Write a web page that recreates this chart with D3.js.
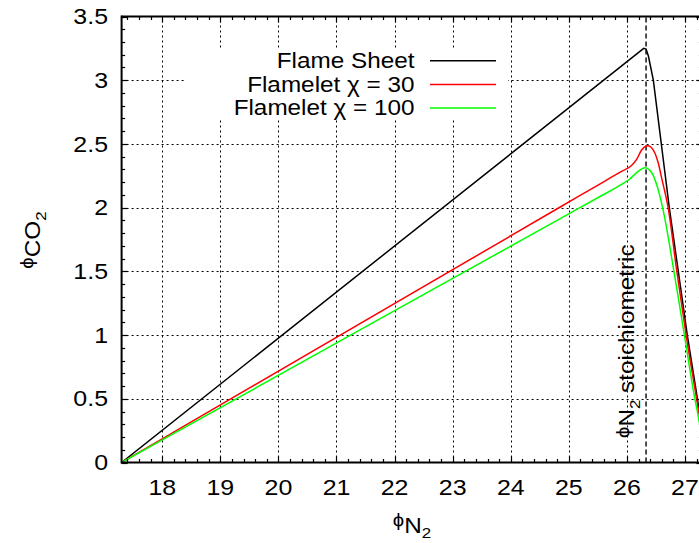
<!DOCTYPE html>
<html><head><meta charset="utf-8">
<script src="https://cdn.jsdelivr.net/npm/d3@7"></script>
<style>body{margin:0;background:#fff} svg{display:block} text{font-family:"Liberation Sans",Arial,Helvetica,sans-serif;fill:#000}</style>
</head><body><svg id="c" width="699" height="543"></svg>
<script>
// ---- data ----
const xTicks = [18,19,20,21,22,23,24,25,26,27];
const yTicks = [0,0.5,1,1.5,2,2.5,3,3.5];
const seriesNames = ["Flame Sheet","Flamelet χ = 30","Flamelet χ = 100"];
const seriesColors = ["#000000","#ff0000","#00ff00"];
const flameSheetX = [17.3,26.29,26.33,26.37,26.455,26.73,26.885,27.04,27.215,27.37];
const flameSheetY = [0,3.25,3.245,3.19,3.0,2.0,1.5,1.0,0.5,0];
const chi30X = [17.3,18.0,24.86,25.6,25.9,26.08,26.17,26.25,26.36,26.455,26.54,26.6,26.71,26.86,27.02,27.2,27.38];
const chi30Y = [0,0.186,2.007,2.203,2.283,2.33,2.38,2.45,2.486,2.452,2.35,2.23,2.0,1.5,1.0,0.5,0];
const chi100X = [17.3,18.0,24.86,25.6,25.9,26.05,26.17,26.31,26.42,26.52,26.615,26.81,26.99,27.17,27.23,27.35];
const chi100Y = [0,0.177,1.916,2.103,2.18,2.225,2.275,2.314,2.28,2.17,2.0,1.5,1.0,0.5,0.36,0];
const stoichX = 26.33;
const xDomain = [17.3,27.3];
const yDomain = [0,3.5];

// ---- layout ----
const svg = d3.select("#c");
const L = 121.6, R = 702.4, T = 16.5, B = 462.5;
const x = d3.scaleLinear().domain(xDomain).range([L,R]);
const y = d3.scaleLinear().domain(yDomain).range([B,T]);
const FS = 21.5, SX = 1.13;

svg.append("defs").append("clipPath").attr("id","clip")
  .append("rect").attr("x",L).attr("y",T).attr("width",R-L).attr("height",B-T);

// grid
const grid = svg.append("g").attr("stroke","#000").attr("stroke-width",1).attr("stroke-dasharray","2,3");
xTicks.forEach(v=>grid.append("line").attr("x1",Math.round(x(v))+0.5).attr("x2",Math.round(x(v))+0.5).attr("y1",B).attr("y2",T));
yTicks.filter(v=>v>0 && v<3.5).forEach(v=>grid.append("line").attr("y1",Math.round(y(v))+0.5).attr("y2",Math.round(y(v))+0.5).attr("x1",L).attr("x2",R));

// stoichiometric line
svg.append("line").attr("x1",x(stoichX)).attr("x2",x(stoichX)).attr("y1",B).attr("y2",T)
  .attr("stroke","#222").attr("stroke-width",1.6).attr("stroke-dasharray","5,3");

// legend box (opaque)
svg.append("rect").attr("x",184).attr("y",48).attr("width",324).attr("height",72).attr("fill","#fff");

// curves
const series = [[flameSheetX,flameSheetY,d3.curveLinear],[chi30X,chi30Y,d3.curveMonotoneX],[chi100X,chi100Y,d3.curveMonotoneX]];
const cg = svg.append("g").attr("clip-path","url(#clip)");
series.forEach((s,i)=>{
  const pts = s[0].map((xv,j)=>[xv,s[1][j]]);
  cg.append("path").attr("d",d3.line().x(d=>x(d[0])).y(d=>y(d[1])).curve(s[2])(pts))
    .attr("fill","none").attr("stroke",seriesColors[i]).attr("stroke-width",1.5);
});

// axes frame and ticks
const ax = svg.append("g").attr("stroke","#000");
ax.append("line").attr("x1",L).attr("x2",R).attr("y1",B).attr("y2",B).attr("stroke-width",2);
ax.append("line").attr("x1",L).attr("x2",R).attr("y1",T).attr("y2",T).attr("stroke-width",2);
ax.append("line").attr("x1",L).attr("x2",L).attr("y1",T-1).attr("y2",B+1).attr("stroke-width",2);
ax.append("line").attr("x1",R).attr("x2",R).attr("y1",T-1).attr("y2",B+1).attr("stroke-width",2);
const xMinor = d3.range(Math.ceil(xDomain[0]*5), Math.floor(xDomain[1]*5)+1).map(k=>k/5);
xMinor.forEach(v=>{
  const major = Math.abs(v-Math.round(v))<1e-9;
  const len = major?6:3.5, px = Math.round(x(v))+0.5;
  ax.append("line").attr("x1",px).attr("x2",px).attr("y1",B).attr("y2",B-len).attr("stroke-width",1.2);
  ax.append("line").attr("x1",px).attr("x2",px).attr("y1",T).attr("y2",T+len).attr("stroke-width",1.2);
});
const yMinor = d3.range(0,36).map(k=>k/10);
yMinor.forEach(v=>{
  const major = Math.abs(v*2-Math.round(v*2))<1e-9;
  const len = major?6:3.5, py = Math.round(y(v))+0.5;
  ax.append("line").attr("x1",L).attr("x2",L+len).attr("y1",py).attr("y2",py).attr("stroke-width",1.2);
  ax.append("line").attr("x1",R).attr("x2",R-len).attr("y1",py).attr("y2",py).attr("stroke-width",1.2);
});

function txt(px,py,s,anchor,rot,sx){
  const t = svg.append("text").attr("font-size",FS).attr("text-anchor",anchor)
    .attr("transform",`translate(${px},${py})`+(rot?` rotate(${rot})`:"")+` scale(${sx||SX},1)`);
  if (typeof s === "string") t.text(s);
  return t;
}
// tick labels
xTicks.forEach(v=>txt(x(v),495,String(v),"middle",0,1.16));
yTicks.forEach(v=>txt(108,y(v)+7.7,String(v),"end",0,1.16));

// legend
seriesNames.forEach((n,i)=>{
  const ly = 60.7 + i*23.7;
  txt(414.5, ly+7.3, n, "end");
  svg.append("line").attr("x1",430).attr("x2",496).attr("y1",ly).attr("y2",ly)
    .attr("stroke",seriesColors[i]).attr("stroke-width",1.5);
});

// axis labels
const xl = txt(412,533,null,"middle");
xl.append("tspan").attr("font-size",18).attr("dy",-7).text("ϕ");
xl.append("tspan").attr("dy",7).text("N");
xl.append("tspan").attr("font-size",15).attr("dy",5).text("2");

const yl = txt(40,240,null,"middle",-90);
yl.append("tspan").attr("font-size",18).attr("dy",-7).text("ϕ");
yl.append("tspan").attr("dy",7).text("CO");
yl.append("tspan").attr("font-size",15).attr("dy",6).text("2");

const sl = txt(634,438,null,"start",-90);
sl.append("tspan").attr("font-size",18).attr("dy",-5).text("ϕ");
sl.append("tspan").attr("dy",5).text("N");
sl.append("tspan").attr("font-size",15).attr("dy",6).text("2");
sl.append("tspan").attr("dy",-6).text(" stoichiometric");
</script></body></html>
